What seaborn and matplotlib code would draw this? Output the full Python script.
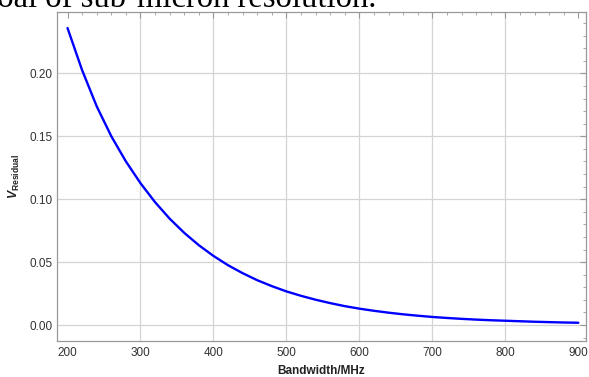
import numpy as np
import pandas as pd
import seaborn as sns
import matplotlib.pyplot as plt
from matplotlib.ticker import MultipleLocator, FormatStrFormatter

# values (every 20 MHz)
bandwidth = [200, 220, 240, 260, 280, 300, 320, 340, 360, 380, 400, 420,
             440, 460, 480, 500, 520, 540, 560, 580, 600, 620, 640, 660,
             680, 700, 720, 740, 760, 780, 800, 820, 840, 860, 880, 900]
v_residual = [0.236, 0.2025, 0.1738, 0.150, 0.130, 0.1127, 0.0976, 0.0845,
              0.0732, 0.0634, 0.0549, 0.0475, 0.0412, 0.0356, 0.0309, 0.0267,
              0.0232, 0.0201, 0.0174, 0.0150, 0.0130, 0.0113, 0.0098, 0.0085,
              0.0074, 0.0064, 0.0056, 0.0049, 0.0043, 0.0038, 0.0034, 0.0030,
              0.0026, 0.0023, 0.0020, 0.0018]
x_gridlines = [300, 400, 500, 600, 700, 800]
y_gridlines = [0.0, 0.05, 0.10, 0.15, 0.20]

df = pd.DataFrame({'Bandwidth': bandwidth, 'V': v_residual})

sns.set_style("white")
plt.rcParams['font.family'] = ['Liberation Sans', 'DejaVu Sans']
plt.rcParams['mathtext.fontset'] = 'custom'
plt.rcParams['mathtext.it'] = 'Liberation Sans:italic:bold'
plt.rcParams['mathtext.rm'] = 'Liberation Sans:bold'

fig = plt.figure(figsize=(5.89, 3.77), dpi=100)
ax = fig.add_axes([0.0968, 0.0955, 0.8982, 0.8725])

for gx in x_gridlines:
    ax.axvline(gx, color='#d4d4d4', lw=0.9, zorder=0)
for gy in y_gridlines:
    ax.axhline(gy, color='#d4d4d4', lw=0.9, zorder=0)

sns.lineplot(data=df, x='Bandwidth', y='V', color='#0000ff', lw=1.7, ax=ax)

ax.set_xlim(185.6, 910.6)
ax.set_ylim(-0.0127, 0.2487)
ax.xaxis.set_major_locator(MultipleLocator(100))
ax.xaxis.set_minor_locator(MultipleLocator(20))
ax.yaxis.set_major_locator(MultipleLocator(0.05))
ax.yaxis.set_minor_locator(MultipleLocator(0.01))
ax.yaxis.set_major_formatter(FormatStrFormatter('%.2f'))

ax.tick_params(which='both', direction='in', top=True, right=True,
               color='#999999', labelsize=8.5, labelcolor='#333333')
ax.tick_params(which='major', length=4, width=0.8)
ax.tick_params(which='minor', length=2.3, width=0.6)
ax.tick_params(axis='x', pad=4)
ax.tick_params(axis='y', pad=3.5)

for s in ax.spines.values():
    s.set_color('#999999')
    s.set_linewidth(0.9)

ax.set_xlabel('Bandwidth/MHz', fontsize=8.5, fontweight='bold', color='#222222', labelpad=5)
ax.set_ylabel(r'$V_{\mathrm{Residual}}$', fontsize=8.8, color='#222222', labelpad=5)

# text line cut off at the top of the reference image
fig.text(-0.033, 0.9814, 'goal of sub-micron resolution.', family='Liberation Serif',
         fontsize=23.5, color='black', va='baseline', ha='left')

fig.savefig('out.png', dpi=100)
